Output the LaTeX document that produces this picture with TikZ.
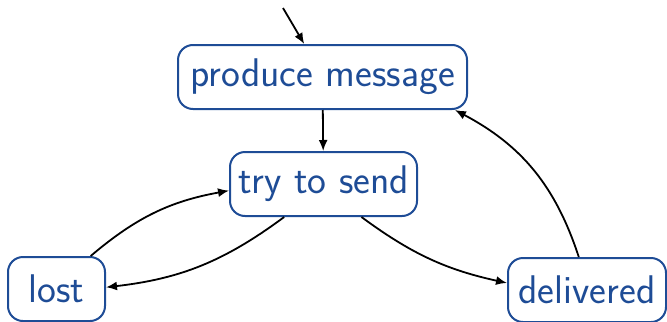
\documentclass[tikz,border=0pt]{standalone}
\usetikzlibrary{arrows.meta}
\definecolor{stateblue}{RGB}{30,76,150}
\begin{document}
\begin{tikzpicture}[x=0.5pt,y=-0.5pt,
  state/.style={draw=stateblue, line width=1pt, rounded corners=7.5pt, text=stateblue,
    font=\sffamily\fontsize{20}{24}\selectfont, minimum height=32pt, inner sep=0pt},
  conn/.style={draw=black, line width=0.9pt, -{Latex[length=5.5pt,width=4.5pt]}}]
\useasboundingbox (0,0) rectangle (667,321);
\node[state, minimum width=144.5pt] (produce) at (322.5,77) {produce message};
\node[state, minimum width=93.5pt] (try) at (323.5,184) {try to send};
\node[state, minimum width=48.5pt] (lost) at (56.5,289) {lost};
\node[state, minimum width=79pt] (delivered) at (587,290) {delivered};
\coordinate (init) at (283,8);
\draw[conn] (init) -- (produce.119);
\draw[conn] (produce) -- (try);
\draw[conn] (try.220) to[bend left=15] (lost.2);
\draw[conn] (lost.44) to[bend left=15] (try.184);
\draw[conn] (try.319) to[bend right=12] (delivered.175);
\draw[conn] (delivered.104) to[bend right=22] (produce.346);
\end{tikzpicture}
\end{document}
